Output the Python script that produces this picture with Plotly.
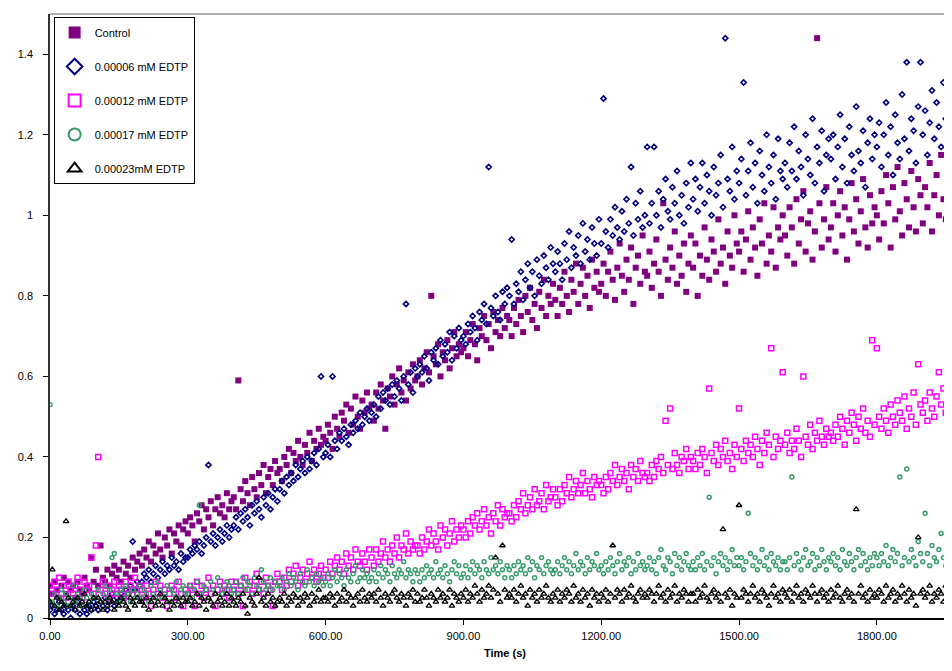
import plotly.graph_objects as go

# Sampling times (s), one reading every 5 s
time_s = [
    0, 5, 10, 15, 20, 25, 30, 35, 40, 45, 50, 55, 60, 65, 70, 75, 80, 85, 90, 95,
    100, 105, 110, 115, 120, 125, 130, 135, 140, 145, 150, 155, 160, 165, 170, 175, 180, 185, 190, 195,
    200, 205, 210, 215, 220, 225, 230, 235, 240, 245, 250, 255, 260, 265, 270, 275, 280, 285, 290, 295,
    300, 305, 310, 315, 320, 325, 330, 335, 340, 345, 350, 355, 360, 365, 370, 375, 380, 385, 390, 395,
    400, 405, 410, 415, 420, 425, 430, 435, 440, 445, 450, 455, 460, 465, 470, 475, 480, 485, 490, 495,
    500, 505, 510, 515, 520, 525, 530, 535, 540, 545, 550, 555, 560, 565, 570, 575, 580, 585, 590, 595,
    600, 605, 610, 615, 620, 625, 630, 635, 640, 645, 650, 655, 660, 665, 670, 675, 680, 685, 690, 695,
    700, 705, 710, 715, 720, 725, 730, 735, 740, 745, 750, 755, 760, 765, 770, 775, 780, 785, 790, 795,
    800, 805, 810, 815, 820, 825, 830, 835, 840, 845, 850, 855, 860, 865, 870, 875, 880, 885, 890, 895,
    900, 905, 910, 915, 920, 925, 930, 935, 940, 945, 950, 955, 960, 965, 970, 975, 980, 985, 990, 995,
    1000, 1005, 1010, 1015, 1020, 1025, 1030, 1035, 1040, 1045, 1050, 1055, 1060, 1065, 1070, 1075, 1080, 1085, 1090, 1095,
    1100, 1105, 1110, 1115, 1120, 1125, 1130, 1135, 1140, 1145, 1150, 1155, 1160, 1165, 1170, 1175, 1180, 1185, 1190, 1195,
    1200, 1205, 1210, 1215, 1220, 1225, 1230, 1235, 1240, 1245, 1250, 1255, 1260, 1265, 1270, 1275, 1280, 1285, 1290, 1295,
    1300, 1305, 1310, 1315, 1320, 1325, 1330, 1335, 1340, 1345, 1350, 1355, 1360, 1365, 1370, 1375, 1380, 1385, 1390, 1395,
    1400, 1405, 1410, 1415, 1420, 1425, 1430, 1435, 1440, 1445, 1450, 1455, 1460, 1465, 1470, 1475, 1480, 1485, 1490, 1495,
    1500, 1505, 1510, 1515, 1520, 1525, 1530, 1535, 1540, 1545, 1550, 1555, 1560, 1565, 1570, 1575, 1580, 1585, 1590, 1595,
    1600, 1605, 1610, 1615, 1620, 1625, 1630, 1635, 1640, 1645, 1650, 1655, 1660, 1665, 1670, 1675, 1680, 1685, 1690, 1695,
    1700, 1705, 1710, 1715, 1720, 1725, 1730, 1735, 1740, 1745, 1750, 1755, 1760, 1765, 1770, 1775, 1780, 1785, 1790, 1795,
    1800, 1805, 1810, 1815, 1820, 1825, 1830, 1835, 1840, 1845, 1850, 1855, 1860, 1865, 1870, 1875, 1880, 1885, 1890, 1895,
    1900, 1905, 1910, 1915, 1920, 1925, 1930, 1935, 1940, 1945, 1950, 1955, 1960, 1965, 1970, 1975, 1980,
]

control = [
    0.08, 0.06, 0.09, 0.07, 0.05, 0.08, 0.10, 0.06, 0.09, 0.07, 0.08, 0.05, 0.09, 0.07, 0.06, 0.10, 0.08, 0.07, 0.15, 0.09,
    0.12, 0.08, 0.18, 0.10, 0.09, 0.12, 0.08, 0.11, 0.13, 0.10, 0.12, 0.09, 0.14, 0.11, 0.13, 0.10, 0.15, 0.12, 0.14, 0.16,
    0.13, 0.17, 0.15, 0.19, 0.14, 0.18, 0.16, 0.21, 0.17, 0.15, 0.20, 0.18, 0.22, 0.16, 0.21, 0.19, 0.23, 0.18, 0.22, 0.24,
    0.21, 0.25, 0.23, 0.19, 0.26, 0.24, 0.28, 0.22, 0.27, 0.25, 0.29, 0.23, 0.27, 0.30, 0.26, 0.28, 0.25, 0.31, 0.27, 0.29,
    0.30, 0.27, 0.59, 0.32, 0.29, 0.34, 0.31, 0.28, 0.35, 0.32, 0.30, 0.36, 0.33, 0.38, 0.31, 0.35, 0.37, 0.33, 0.39, 0.36,
    0.37, 0.34, 0.40, 0.38, 0.42, 0.36, 0.41, 0.39, 0.44, 0.40, 0.38, 0.43, 0.41, 0.46, 0.39, 0.44, 0.42, 0.47, 0.43, 0.45,
    0.44, 0.48, 0.46, 0.42, 0.50, 0.47, 0.45, 0.51, 0.49, 0.53, 0.46, 0.52, 0.48, 0.55, 0.50, 0.47, 0.54, 0.51, 0.56, 0.52,
    0.53, 0.49, 0.56, 0.52, 0.58, 0.54, 0.47, 0.57, 0.55, 0.60, 0.53, 0.58, 0.62, 0.56, 0.59, 0.54, 0.61, 0.57, 0.63, 0.59,
    0.60, 0.64, 0.58, 0.62, 0.66, 0.61, 0.80, 0.65, 0.63, 0.68, 0.60, 0.66, 0.64, 0.69, 0.62, 0.67, 0.71, 0.65, 0.68, 0.66,
    0.67, 0.71, 0.65, 0.69, 0.73, 0.68, 0.64, 0.72, 0.70, 0.75, 0.69, 0.73, 0.67, 0.76, 0.71, 0.74, 0.70, 0.77, 0.72, 0.75,
    0.74, 0.70, 0.77, 0.73, 0.79, 0.75, 0.71, 0.80, 0.76, 0.82, 0.74, 0.78, 0.72, 0.81, 0.77, 0.84, 0.75, 0.80, 0.78, 0.83,
    0.79, 0.75, 0.82, 0.78, 0.86, 0.80, 0.76, 0.84, 0.81, 0.88, 0.78, 0.83, 0.87, 0.80, 0.85, 0.77, 0.89, 0.82, 0.86, 0.81,
    0.83, 0.88, 0.80, 0.86, 0.91, 0.84, 0.79, 0.87, 0.93, 0.85, 0.81, 0.89, 0.84, 0.92, 0.78, 0.87, 0.90, 0.83, 0.95, 0.86,
    0.85, 0.91, 0.82, 0.88, 0.94, 0.86, 0.80, 1.03, 0.89, 0.84, 0.92, 0.87, 0.96, 0.83, 0.90, 0.85, 0.93, 0.81, 0.88, 0.95,
    0.87, 0.93, 0.80, 0.90, 0.85, 0.97, 0.89, 0.84, 0.94, 0.91, 0.86, 0.99, 0.88, 0.92, 0.83, 0.96, 0.90, 0.87, 1.00, 0.93,
    0.91, 0.96, 0.86, 0.94, 1.01, 0.89, 0.97, 0.92, 0.85, 0.99, 0.93, 1.03, 0.88, 0.95, 0.91, 1.02, 0.87, 0.97, 0.94, 1.00,
    0.95, 0.90, 1.02, 0.97, 0.88, 1.04, 0.93, 0.99, 1.06, 0.91, 0.98, 1.01, 0.89, 0.96, 1.44, 1.03, 0.92, 0.99, 1.07, 0.94,
    0.97, 1.03, 0.91, 1.00, 1.06, 0.95, 1.02, 0.89, 0.99, 1.08, 0.96, 1.04, 0.93, 1.01, 1.09, 0.97, 0.92, 1.05, 0.98, 1.02,
    1.00, 0.94, 1.06, 0.98, 1.10, 1.03, 0.92, 1.07, 0.99, 1.12, 1.01, 0.95, 1.08, 1.04, 0.97, 1.11, 1.02, 0.96, 1.09, 1.05,
    0.98, 1.07, 1.02, 1.13, 0.96, 1.05, 1.10, 1.00, 1.15, 1.04, 0.99, 1.08, 1.25, 1.03, 1.11, 1.01, 1.06,
]

edtp_00006 = [
    0.02, 0.03, 0.01, 0.02, 0.04, 0.02, 0.01, 0.03, 0.02, 0.00, 0.03, 0.02, 0.04, 0.01, 0.03, 0.02, 0.01, 0.03, 0.02, 0.04,
    0.03, 0.02, 0.04, 0.03, 0.05, 0.02, 0.04, 0.06, 0.03, 0.05, 0.04, 0.06, 0.05, 0.07, 0.06, 0.08, 0.19, 0.07, 0.09, 0.08,
    0.09, 0.11, 0.10, 0.12, 0.09, 0.11, 0.13, 0.10, 0.12, 0.14, 0.11, 0.13, 0.12, 0.15, 0.13, 0.14, 0.12, 0.16, 0.14, 0.15,
    0.15, 0.17, 0.16, 0.18, 0.17, 0.19, 0.16, 0.18, 0.20, 0.38, 0.19, 0.21, 0.18, 0.20, 0.22, 0.19, 0.21, 0.23, 0.20, 0.22,
    0.23, 0.25, 0.22, 0.26, 0.24, 0.27, 0.25, 0.23, 0.28, 0.26, 0.29, 0.27, 0.25, 0.30, 0.28, 0.31, 0.27, 0.30, 0.32, 0.29,
    0.32, 0.34, 0.31, 0.35, 0.33, 0.36, 0.34, 0.38, 0.35, 0.37, 0.39, 0.36, 0.40, 0.37, 0.39, 0.41, 0.38, 0.42, 0.60, 0.40,
    0.41, 0.43, 0.40, 0.60, 0.44, 0.42, 0.46, 0.44, 0.47, 0.45, 0.43, 0.48, 0.46, 0.49, 0.47, 0.51, 0.48, 0.50, 0.52, 0.49,
    0.51, 0.53, 0.50, 0.55, 0.52, 0.56, 0.54, 0.57, 0.53, 0.58, 0.55, 0.59, 0.57, 0.54, 0.60, 0.78, 0.58, 0.61, 0.56, 0.62,
    0.60, 0.63, 0.61, 0.65, 0.62, 0.59, 0.66, 0.64, 0.67, 0.63, 0.69, 0.65, 0.68, 0.66, 0.71, 0.64, 0.70, 0.67, 0.72, 0.69,
    0.70, 0.68, 0.73, 0.71, 0.75, 0.72, 0.69, 0.76, 0.74, 0.78, 0.73, 1.12, 0.77, 0.75, 0.80, 0.76, 0.74, 0.81, 0.78, 0.82,
    0.80, 0.94, 0.78, 0.83, 0.81, 0.86, 0.79, 0.84, 0.88, 0.82, 0.86, 0.80, 0.89, 0.85, 0.83, 0.90, 0.87, 0.84, 0.92, 0.88,
    0.86, 0.91, 0.88, 0.84, 0.93, 0.89, 0.96, 0.87, 0.92, 0.90, 0.95, 0.88, 0.98, 0.91, 0.94, 0.89, 0.97, 0.93, 0.90, 0.99,
    0.93, 1.29, 0.96, 0.92, 0.99, 0.95, 1.02, 0.97, 0.94, 1.01, 0.96, 1.04, 0.98, 1.12, 0.95, 1.03, 0.99, 1.06, 0.97, 1.00,
    1.17, 0.98, 1.03, 1.17, 1.00, 1.06, 0.97, 1.04, 1.09, 1.01, 0.99, 1.07, 1.03, 1.11, 1.00, 1.05, 0.98, 1.08, 1.02, 1.13,
    1.04, 1.09, 1.01, 1.07, 1.13, 1.03, 1.10, 1.06, 1.00, 1.12, 1.05, 1.08, 1.15, 1.02, 1.44, 1.09, 1.06, 1.17, 1.04, 1.11,
    1.08, 1.14, 1.33, 1.05, 1.11, 1.18, 1.07, 1.13, 1.03, 1.16, 1.10, 1.06, 1.20, 1.12, 1.08, 1.15, 1.04, 1.19, 1.11, 1.09,
    1.13, 1.07, 1.18, 1.11, 1.22, 1.09, 1.16, 1.12, 1.05, 1.20, 1.14, 1.10, 1.24, 1.08, 1.17, 1.13, 1.21, 1.06, 1.15, 1.19,
    1.14, 1.20, 1.09, 1.17, 1.25, 1.12, 1.19, 1.08, 1.22, 1.15, 1.11, 1.27, 1.16, 1.13, 1.21, 1.07, 1.18, 1.24, 1.14, 1.20,
    1.17, 1.23, 1.12, 1.20, 1.28, 1.15, 1.22, 1.10, 1.25, 1.18, 1.14, 1.30, 1.19, 1.38, 1.16, 1.24, 1.21, 1.13, 1.27, 1.38,
    1.20, 1.26, 1.15, 1.23, 1.31, 1.19, 1.28, 1.22, 1.17, 1.33, 1.24, 1.21, 1.29, 1.42, 1.25, 1.32, 1.27,
]

edtp_00012 = [
    0.08, 0.06, 0.09, 0.07, 0.10, 0.06, 0.08, 0.05, 0.09, 0.07, 0.06, 0.08, 0.10, 0.07, 0.05, 0.09, 0.07, 0.08, 0.15, 0.06,
    0.18, 0.40, 0.07, 0.09, 0.06, 0.08, 0.05, 0.07, 0.09, 0.06, 0.08, 0.07, 0.05, 0.09, 0.06, 0.08, 0.07, 0.10, 0.06, 0.08,
    0.07, 0.05, 0.08, 0.06, 0.03, 0.07, 0.09, 0.06, 0.08, 0.05, 0.07, 0.03, 0.06, 0.08, 0.07, 0.05, 0.09, 0.06, 0.03, 0.07,
    0.06, 0.08, 0.07, 0.03, 0.09, 0.06, 0.08, 0.05, 0.07, 0.10, 0.06, 0.08, 0.03, 0.07, 0.09, 0.06, 0.08, 0.07, 0.05, 0.09,
    0.07, 0.09, 0.06, 0.08, 0.03, 0.10, 0.07, 0.09, 0.06, 0.08, 0.11, 0.07, 0.09, 0.06, 0.10, 0.08, 0.07, 0.03, 0.09, 0.11,
    0.09, 0.07, 0.10, 0.08, 0.12, 0.09, 0.11, 0.13, 0.08, 0.10, 0.12, 0.09, 0.11, 0.14, 0.10, 0.12, 0.09, 0.11, 0.13, 0.10,
    0.12, 0.10, 0.14, 0.11, 0.13, 0.15, 0.12, 0.14, 0.11, 0.16, 0.13, 0.15, 0.12, 0.17, 0.14, 0.13, 0.16, 0.14, 0.12, 0.17,
    0.15, 0.13, 0.17, 0.14, 0.16, 0.19, 0.15, 0.17, 0.14, 0.18, 0.16, 0.20, 0.15, 0.18, 0.17, 0.21, 0.16, 0.19, 0.17, 0.18,
    0.18, 0.16, 0.20, 0.17, 0.19, 0.22, 0.18, 0.21, 0.19, 0.17, 0.23, 0.20, 0.22, 0.18, 0.21, 0.24, 0.19, 0.22, 0.20, 0.23,
    0.22, 0.20, 0.24, 0.21, 0.25, 0.23, 0.26, 0.22, 0.24, 0.27, 0.23, 0.25, 0.21, 0.26, 0.24, 0.28, 0.23, 0.27, 0.25, 0.26,
    0.26, 0.24, 0.28, 0.25, 0.29, 0.27, 0.31, 0.26, 0.28, 0.30, 0.27, 0.32, 0.28, 0.29, 0.31, 0.27, 0.33, 0.29, 0.30, 0.32,
    0.30, 0.28, 0.32, 0.29, 0.33, 0.31, 0.35, 0.30, 0.32, 0.34, 0.31, 0.33, 0.36, 0.31, 0.34, 0.32, 0.30, 0.35, 0.33, 0.34,
    0.33, 0.31, 0.35, 0.32, 0.36, 0.34, 0.38, 0.33, 0.35, 0.37, 0.34, 0.36, 0.32, 0.38, 0.35, 0.37, 0.34, 0.39, 0.36, 0.35,
    0.36, 0.34, 0.38, 0.35, 0.39, 0.37, 0.40, 0.36, 0.49, 0.38, 0.52, 0.37, 0.41, 0.38, 0.36, 0.40, 0.39, 0.42, 0.37, 0.40,
    0.39, 0.37, 0.41, 0.38, 0.42, 0.40, 0.36, 0.57, 0.41, 0.39, 0.43, 0.38, 0.42, 0.40, 0.44, 0.39, 0.41, 0.37, 0.43, 0.40,
    0.52, 0.42, 0.39, 0.44, 0.41, 0.43, 0.40, 0.45, 0.42, 0.38, 0.44, 0.41, 0.46, 0.43, 0.67, 0.40, 0.45, 0.42, 0.44, 0.61,
    0.43, 0.46, 0.41, 0.44, 0.42, 0.47, 0.44, 0.40, 0.60, 0.45, 0.43, 0.48, 0.42, 0.46, 0.44, 0.49, 0.45, 0.43, 0.47, 0.45,
    0.46, 0.44, 0.48, 0.45, 0.50, 0.47, 0.43, 0.49, 0.46, 0.51, 0.48, 0.44, 0.50, 0.47, 0.52, 0.46, 0.49, 0.45, 0.69, 0.48,
    0.67, 0.50, 0.47, 0.52, 0.49, 0.46, 0.53, 0.50, 0.48, 0.54, 0.51, 0.49, 0.55, 0.47, 0.52, 0.50, 0.56, 0.48, 0.63, 0.53,
    0.51, 0.54, 0.49, 0.56, 0.52, 0.50, 0.55, 0.61, 0.53, 0.57, 0.51, 0.71, 0.54, 0.58, 0.52, 0.56, 0.53,
]

edtp_00017 = [
    0.53, 0.04, 0.06, 0.03, 0.05, 0.07, 0.04, 0.06, 0.03, 0.05, 0.08, 0.04, 0.06, 0.05, 0.03, 0.07, 0.05, 0.04, 0.06, 0.05,
    0.05, 0.07, 0.04, 0.06, 0.08, 0.05, 0.07, 0.15, 0.16, 0.06, 0.04, 0.07, 0.05, 0.08, 0.06, 0.04, 0.07, 0.05, 0.06, 0.08,
    0.05, 0.07, 0.06, 0.04, 0.08, 0.06, 0.05, 0.09, 0.07, 0.05, 0.06, 0.08, 0.04, 0.07, 0.06, 0.09, 0.05, 0.07, 0.08, 0.06,
    0.06, 0.08, 0.05, 0.07, 0.09, 0.28, 0.06, 0.08, 0.07, 0.05, 0.09, 0.07, 0.06, 0.10, 0.08, 0.06, 0.07, 0.09, 0.08, 0.06,
    0.07, 0.09, 0.06, 0.08, 0.10, 0.07, 0.09, 0.08, 0.06, 0.10, 0.08, 0.07, 0.12, 0.09, 0.07, 0.08, 0.10, 0.07, 0.09, 0.08,
    0.08, 0.10, 0.07, 0.09, 0.11, 0.08, 0.10, 0.09, 0.07, 0.11, 0.09, 0.08, 0.12, 0.09, 0.10, 0.08, 0.11, 0.09, 0.10, 0.08,
    0.09, 0.11, 0.08, 0.10, 0.12, 0.09, 0.11, 0.10, 0.08, 0.12, 0.10, 0.09, 0.11, 0.13, 0.09, 0.10, 0.12, 0.10, 0.11, 0.09,
    0.10, 0.12, 0.09, 0.11, 0.13, 0.10, 0.12, 0.11, 0.09, 0.13, 0.11, 0.10, 0.12, 0.11, 0.14, 0.10, 0.12, 0.11, 0.09, 0.12,
    0.11, 0.09, 0.12, 0.10, 0.13, 0.11, 0.12, 0.10, 0.14, 0.11, 0.12, 0.10, 0.13, 0.11, 0.09, 0.12, 0.14, 0.11, 0.13, 0.10,
    0.11, 0.13, 0.10, 0.12, 0.14, 0.11, 0.13, 0.12, 0.10, 0.14, 0.12, 0.11, 0.15, 0.12, 0.13, 0.11, 0.14, 0.12, 0.10, 0.13,
    0.12, 0.10, 0.13, 0.11, 0.14, 0.12, 0.13, 0.11, 0.15, 0.12, 0.14, 0.10, 0.13, 0.12, 0.15, 0.11, 0.13, 0.14, 0.12, 0.11,
    0.12, 0.14, 0.11, 0.13, 0.15, 0.12, 0.14, 0.11, 0.13, 0.16, 0.12, 0.14, 0.13, 0.11, 0.15, 0.12, 0.14, 0.13, 0.16, 0.12,
    0.13, 0.11, 0.14, 0.12, 0.15, 0.13, 0.11, 0.14, 0.16, 0.12, 0.14, 0.13, 0.15, 0.11, 0.14, 0.12, 0.16, 0.13, 0.14, 0.12,
    0.13, 0.15, 0.12, 0.14, 0.11, 0.15, 0.17, 0.13, 0.12, 0.15, 0.14, 0.11, 0.16, 0.13, 0.15, 0.12, 0.14, 0.16, 0.13, 0.12,
    0.14, 0.12, 0.15, 0.13, 0.16, 0.12, 0.14, 0.30, 0.13, 0.15, 0.11, 0.14, 0.16, 0.13, 0.15, 0.12, 0.14, 0.17, 0.13, 0.15,
    0.13, 0.15, 0.12, 0.14, 0.26, 0.16, 0.13, 0.15, 0.12, 0.14, 0.17, 0.13, 0.15, 0.12, 0.16, 0.14, 0.13, 0.15, 0.12, 0.14,
    0.14, 0.12, 0.15, 0.35, 0.13, 0.16, 0.14, 0.12, 0.15, 0.17, 0.13, 0.14, 0.16, 0.12, 0.15, 0.13, 0.17, 0.14, 0.12, 0.15,
    0.14, 0.16, 0.13, 0.15, 0.12, 0.17, 0.14, 0.13, 0.16, 0.14, 0.12, 0.15, 0.17, 0.13, 0.16, 0.14, 0.12, 0.15, 0.13, 0.16,
    0.15, 0.13, 0.16, 0.14, 0.18, 0.13, 0.15, 0.17, 0.14, 0.16, 0.35, 0.13, 0.15, 0.37, 0.14, 0.17, 0.15, 0.13, 0.19, 0.16,
    0.14, 0.26, 0.16, 0.13, 0.18, 0.15, 0.14, 0.17, 0.21, 0.15, 0.13, 0.20, 0.16, 0.14, 0.18, 0.15, 0.17,
]

edtp_00023 = [
    0.04, 0.12, 0.03, 0.05, 0.02, 0.04, 0.03, 0.24, 0.05, 0.03, 0.04, 0.02, 0.05, 0.03, 0.04, 0.06, 0.03, 0.04, 0.02, 0.05,
    0.03, 0.05, 0.04, 0.02, 0.04, 0.03, 0.05, 0.04, 0.02, 0.04, 0.03, 0.05, 0.04, 0.03, 0.02, 0.05, 0.04, 0.03, 0.05, 0.04,
    0.04, 0.03, 0.05, 0.02, 0.04, 0.05, 0.03, 0.04, 0.06, 0.03, 0.05, 0.04, 0.02, 0.04, 0.03, 0.05, 0.04, 0.03, 0.05, 0.04,
    0.04, 0.05, 0.03, 0.04, 0.06, 0.03, 0.05, 0.04, 0.02, 0.05, 0.04, 0.03, 0.06, 0.04, 0.05, 0.03, 0.04, 0.06, 0.03, 0.05,
    0.04, 0.03, 0.05, 0.04, 0.06, 0.03, 0.01, 0.05, 0.04, 0.03, 0.06, 0.10, 0.04, 0.05, 0.03, 0.06, 0.04, 0.05, 0.03, 0.04,
    0.05, 0.04, 0.06, 0.03, 0.05, 0.04, 0.06, 0.05, 0.03, 0.05, 0.04, 0.06, 0.05, 0.03, 0.06, 0.04, 0.05, 0.07, 0.04, 0.05,
    0.05, 0.04, 0.06, 0.05, 0.03, 0.06, 0.04, 0.05, 0.07, 0.04, 0.06, 0.05, 0.03, 0.05, 0.06, 0.04, 0.07, 0.05, 0.04, 0.06,
    0.05, 0.06, 0.04, 0.07, 0.05, 0.03, 0.06, 0.05, 0.04, 0.06, 0.07, 0.05, 0.04, 0.06, 0.05, 0.03, 0.06, 0.05, 0.07, 0.04,
    0.06, 0.04, 0.05, 0.07, 0.05, 0.03, 0.06, 0.05, 0.04, 0.07, 0.05, 0.06, 0.04, 0.05, 0.07, 0.03, 0.06, 0.05, 0.04, 0.06,
    0.05, 0.07, 0.04, 0.06, 0.05, 0.08, 0.06, 0.04, 0.07, 0.05, 0.06, 0.08, 0.05, 0.07, 0.15, 0.06, 0.04, 0.18, 0.07, 0.05,
    0.06, 0.05, 0.07, 0.04, 0.06, 0.08, 0.05, 0.06, 0.03, 0.07, 0.05, 0.06, 0.04, 0.07, 0.05, 0.06, 0.08, 0.05, 0.04, 0.06,
    0.05, 0.07, 0.04, 0.06, 0.05, 0.07, 0.06, 0.04, 0.08, 0.05, 0.06, 0.04, 0.07, 0.05, 0.06, 0.03, 0.07, 0.05, 0.06, 0.04,
    0.06, 0.05, 0.07, 0.04, 0.06, 0.18, 0.05, 0.07, 0.06, 0.04, 0.07, 0.05, 0.06, 0.08, 0.05, 0.04, 0.06, 0.07, 0.05, 0.06,
    0.05, 0.07, 0.06, 0.04, 0.06, 0.08, 0.05, 0.06, 0.04, 0.07, 0.05, 0.06, 0.08, 0.04, 0.06, 0.05, 0.07, 0.06, 0.04, 0.06,
    0.06, 0.04, 0.07, 0.05, 0.06, 0.08, 0.05, 0.04, 0.06, 0.07, 0.05, 0.06, 0.04, 0.22, 0.06, 0.05, 0.07, 0.03, 0.06, 0.05,
    0.28, 0.05, 0.07, 0.06, 0.04, 0.06, 0.08, 0.05, 0.06, 0.04, 0.07, 0.06, 0.05, 0.03, 0.06, 0.08, 0.05, 0.06, 0.04, 0.07,
    0.06, 0.05, 0.07, 0.04, 0.06, 0.08, 0.05, 0.06, 0.04, 0.07, 0.06, 0.05, 0.08, 0.06, 0.04, 0.06, 0.07, 0.05, 0.06, 0.04,
    0.07, 0.05, 0.06, 0.08, 0.05, 0.04, 0.06, 0.07, 0.05, 0.06, 0.04, 0.27, 0.06, 0.08, 0.05, 0.06, 0.04, 0.07, 0.05, 0.06,
    0.05, 0.07, 0.06, 0.04, 0.08, 0.05, 0.06, 0.07, 0.04, 0.06, 0.05, 0.08, 0.06, 0.04, 0.07, 0.05, 0.06, 0.03, 0.20, 0.06,
    0.07, 0.05, 0.06, 0.08, 0.04, 0.06, 0.05, 0.07, 0.06, 0.04, 0.08, 0.05, 0.06, 0.07, 0.05, 0.06, 0.04,
]

series_names = ["Control", "0.00006 mM EDTP", "0.00012 mM EDTP",
                "0.00017 mM EDTP", "0.00023mM EDTP"]
x_ticks = [0, 300, 600, 900, 1200, 1500, 1800]
y_ticks = [0, 0.2, 0.4, 0.6, 0.8, 1, 1.2, 1.4]

styles = [
    dict(symbol="square", size=6, color="#800080", line=dict(width=0)),
    dict(symbol="diamond-open", size=4, color="#000080", line=dict(width=1.6, color="#000080")),
    dict(symbol="square-open", size=5, color="#FF00FF", line=dict(width=1.5, color="#FF00FF")),
    dict(symbol="circle-open", size=4, color="#339966", line=dict(width=1.4, color="#339966")),
    dict(symbol="triangle-up-open", size=5, color="#000000", line=dict(width=1.3, color="#000000")),
]

fig = go.Figure()
for name, vals, st in zip(series_names,
                          [control, edtp_00006, edtp_00012, edtp_00017, edtp_00023],
                          styles):
    fig.add_trace(go.Scatter(x=time_s, y=vals, mode="markers", name=name,
                             legendgroup=name, marker=st))

font = "Liberation Sans, Arial, sans-serif"
fig.update_layout(
    width=952, height=671,
    margin=dict(l=42, r=0, t=6, b=61),
    paper_bgcolor="white", plot_bgcolor="white",
    font=dict(family=font, size=11, color="#000000"),
    showlegend=True,
    legend=dict(x=0.004, y=0.995, xanchor="left", yanchor="top",
                bgcolor="white", bordercolor="#000000", borderwidth=1,
                font=dict(size=11), itemsizing="constant",
                tracegroupgap=15, traceorder="grouped"),
    xaxis=dict(range=[0, 1981], tickvals=x_ticks, tickformat=".2f",
               showgrid=False, zeroline=False, showline=True,
               linecolor="#000000", linewidth=1.5, ticks="outside",
               ticklen=5, tickcolor="#000000", ticklabelstandoff=2,
               title=dict(text="<b>Time (s)</b>", standoff=8,
                          font=dict(size=11))),
    yaxis=dict(range=[0, 1.5], tickvals=y_ticks,
               showgrid=False, zeroline=False, showline=True,
               linecolor="#333333", linewidth=1.5, ticks="outside",
               ticklen=5, tickcolor="#000000", ticklabelstandoff=8),
    shapes=[dict(type="line", xref="paper", yref="paper", x0=0, x1=1,
                 y0=1, y1=1, line=dict(color="#999999", width=1.5))],
)

fig.write_html("out.html")
